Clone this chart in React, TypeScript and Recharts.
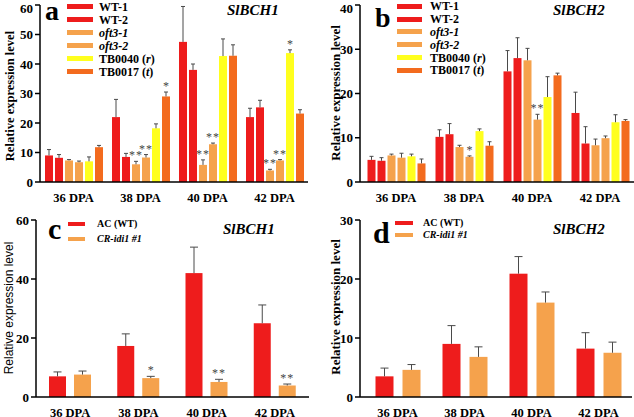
import React from 'react';
import { Bar, BarChart, Legend, XAxis, YAxis } from 'recharts';

const categories = ['36 DPA', '38 DPA', '40 DPA', '42 DPA'];

// a - SlBCH1, six lines
const aWT1 = [9, 22, 47.5, 22];
const aWT1Err = [2, 6, 12, 3];
const aWT2 = [8.2, 8.5, 38, 25.3];
const aWT2Err = [1.1, 1.2, 2, 2.4];
const aOft1 = [7.3, 6, 5.8, 3.9];
const aOft1Err = [0.3, 1, 1.7, 0.4];
const aOft1Sig = ['', '**', '**', '**'];
const aOft2 = [6.7, 8.3, 12.8, 7.3];
const aOft2Err = [0.4, 1, 0.4, 0.3];
const aOft2Sig = ['', '**', '**', '**'];
const aTB40 = [7, 18.2, 42.7, 43.7];
const aTB40Err = [1.5, 1.5, 5.8, 1.1];
const aTB40Sig = ['', '', '', '*'];
const aTB17 = [11.8, 29, 42.8, 23.2];
const aTB17Err = [0.6, 1.5, 3.7, 1.3];
const aTB17Sig = ['', '*', '', ''];

// b - SlBCH2, six lines
const bWT1 = [5, 10.2, 25, 15.6];
const bWT1Err = [0.8, 1.6, 4.7, 4.7];
const bWT2 = [4.8, 10.8, 28, 8.7];
const bWT2Err = [0.7, 2.4, 4.6, 3.8];
const bOft1 = [6, 7.9, 27.5, 8.3];
const bOft1Err = [0.3, 0.4, 2.7, 1.4];
const bOft2 = [5.5, 5.7, 14.1, 9.9];
const bOft2Err = [1, 0.2, 1.2, 0.5];
const bOft2Sig = ['', '*', '**', ''];
const bTB40 = [5.8, 11.5, 19.2, 13.5];
const bTB40Err = [0.5, 0.5, 4.6, 1.7];
const bTB17 = [4.2, 8.2, 24.1, 13.8];
const bTB17Err = [1, 0.9, 0.5, 0.3];

// c - SlBCH1, CR-idi1
const cAC = [7, 17.3, 42, 25];
const cACErr = [1.5, 4.1, 8.8, 6.2];
const cCR = [7.6, 6.4, 5.1, 3.9];
const cCRErr = [1.2, 0.6, 0.9, 0.5];
const cCRSig = ['', '*', '**', '**'];

// d - SlBCH2, CR-idi1
const dAC = [3.5, 9, 20.9, 8.2];
const dACErr = [1.4, 3.1, 2.9, 2.7];
const dCR = [4.6, 6.8, 16, 7.5];
const dCRErr = [0.9, 1.7, 1.8, 1.8];

const RED = '#ee1c1c';
const LORANGE = '#f5a24c';
const YELLOW = '#ffff1e';
const DORANGE = '#f36b1e';

const SERIF = '"Liberation Serif", "Times New Roman", serif';
const SANS = '"Liberation Sans", Arial, sans-serif';

type Series = { key: string; name: string; color: string; values: number[]; err: number[]; sig?: string[] };

function buildRows(series: Series[]) {
  return categories.map((cat, i) => {
    const row: any = { cat };
    series.forEach((s) => {
      row[s.key] = s.values[i];
      row[s.key + 'Err'] = s.err[i];
      row[s.key + 'Sig'] = s.sig ? s.sig[i] : '';
    });
    return row;
  });
}

// bar + upper error bar + significance stars
const errShape = (key: string, cap: number) => (p: any) => {
  const { x, y, width, height, fill, payload } = p;
  const v = payload[key];
  const ppu = v ? height / v : 0;
  const top = y - payload[key + 'Err'] * ppu;
  const cx = x + width / 2;
  const sig = payload[key + 'Sig'];
  return (
    <g>
      <rect x={x} y={y} width={width} height={height} fill={fill} />
      <line x1={cx} x2={cx} y1={y} y2={top} stroke="#4a4a4a" strokeWidth={1} />
      <line x1={cx - cap} x2={cx + cap} y1={top} y2={top} stroke="#4a4a4a" strokeWidth={1} />
      {sig ? (
        <text x={cx} y={top - 2} textAnchor="middle" fontFamily={SERIF} fontSize={12} fill="#444" letterSpacing={sig.length > 1 ? 1 : 0}>
          {sig}
        </text>
      ) : null}
    </g>
  );
};

function fmtName(name: string) {
  if (name.startsWith('oft3') || name.startsWith('CR-')) return <i>{name}</i>;
  const m = name.match(/^(.*)\((\w)\)$/);
  if (m) return <>{m[1]}(<i>{m[2]}</i>)</>;
  return name;
}

const legendContent = (order: string[], font: number, sw: number, sh: number, gap: number, rowH: number) => (props: any) => {
  const items = [...(props.payload || [])].sort((p: any, q: any) => order.indexOf(p.value) - order.indexOf(q.value));
  return (
    <div>
      {items.map((e: any) => (
        <div key={e.value} style={{ display: 'flex', alignItems: 'center', height: rowH }}>
          <span style={{ display: 'inline-block', width: sw, height: sh, background: e.color, marginRight: gap }} />
          <span style={{ fontFamily: SERIF, fontWeight: 'bold', fontSize: font, color: '#000', lineHeight: 1, whiteSpace: 'nowrap' }}>
            {fmtName(e.value)}
          </span>
        </div>
      ))}
    </div>
  );
};

type PanelCfg = {
  left: number; top: number; width: number; height: number;
  series: Series[]; max: number; ticks: number[];
  margin: { top: number; right: number; left: number; bottom: number };
  yWidth: number; xHeight: number; padLeft: number; catGap: number; barGap: number; cap: number;
  letter: string; letterX: number; letterY: number; letterSize: number;
  gene: string; geneX: number; geneY: number;
  titleX: number; titleY: number; titleSans?: boolean; titleSize: number;
  legend: { left: number; top: number; font: number; sw: number; sh: number; gap: number; rowH: number };
};

function Panel({ cfg }: { cfg: PanelCfg }) {
  const data = buildRows(cfg.series);
  const order = cfg.series.map((s) => s.name);
  const tickStyle = { fontFamily: SERIF, fontWeight: 'bold', fontSize: 13, fill: '#000' };
  return (
    <div style={{ position: 'absolute', left: cfg.left, top: cfg.top, width: cfg.width, height: cfg.height }}>
      <BarChart
        width={cfg.width}
        height={cfg.height}
        data={data}
        margin={cfg.margin}
        barCategoryGap={cfg.catGap}
        barGap={cfg.barGap}
      >
        <XAxis
          dataKey="cat"
          height={cfg.xHeight}
          tickLine={false}
          tickMargin={5}
          padding={{ left: cfg.padLeft, right: 0 }}
          axisLine={{ stroke: '#000', strokeWidth: 1.5 }}
          tick={{ ...tickStyle, fontSize: 12.5 }}
          interval={0}
        />
        <YAxis
          width={cfg.yWidth}
          domain={[0, cfg.max]}
          ticks={cfg.ticks}
          tickSize={5}
          tickMargin={2}
          axisLine={{ stroke: '#000', strokeWidth: 1.5 }}
          tickLine={{ stroke: '#000', strokeWidth: 1.5 }}
          tick={tickStyle}
          allowDataOverflow
        />
        <Legend
          layout="vertical"
          align="center"
          verticalAlign="middle"
          wrapperStyle={{ left: cfg.legend.left, top: cfg.legend.top, width: 'auto' }}
          content={legendContent(order, cfg.legend.font, cfg.legend.sw, cfg.legend.sh, cfg.legend.gap, cfg.legend.rowH)}
        />
        {cfg.series.map((s) => (
          <Bar
            key={s.key}
            dataKey={s.key}
            name={s.name}
            fill={s.color}
            isAnimationActive={false}
            shape={errShape(s.key, cfg.cap)}
          />
        ))}
      </BarChart>
      <svg width={cfg.width} height={cfg.height} style={{ position: 'absolute', left: 0, top: 0, pointerEvents: 'none' }}>
        <text x={cfg.letterX} y={cfg.letterY} fontFamily={SERIF} fontWeight="bold" fontSize={cfg.letterSize} fill="#000">
          {cfg.letter}
        </text>
        <text x={cfg.geneX} y={cfg.geneY} fontFamily={SERIF} fontWeight="bold" fontStyle="italic" fontSize={15} fill="#000">
          {cfg.gene}
        </text>
        <text
          x={cfg.titleX}
          y={cfg.titleY}
          transform={`rotate(-90 ${cfg.titleX} ${cfg.titleY})`}
          textAnchor="middle"
          dominantBaseline="central"
          fontFamily={cfg.titleSans ? SANS : SERIF}
          fontWeight={cfg.titleSans ? 'normal' : 'bold'}
          fontSize={cfg.titleSize}
          fill="#000"
        >
          Relative expression level
        </text>
      </svg>
    </div>
  );
}

const sixA: Series[] = [
  { key: 'wt1', name: 'WT-1', color: RED, values: aWT1, err: aWT1Err },
  { key: 'wt2', name: 'WT-2', color: RED, values: aWT2, err: aWT2Err },
  { key: 'oft1', name: 'oft3-1', color: LORANGE, values: aOft1, err: aOft1Err, sig: aOft1Sig },
  { key: 'oft2', name: 'oft3-2', color: LORANGE, values: aOft2, err: aOft2Err, sig: aOft2Sig },
  { key: 'tb40', name: 'TB0040 (r)', color: YELLOW, values: aTB40, err: aTB40Err, sig: aTB40Sig },
  { key: 'tb17', name: 'TB0017 (t)', color: DORANGE, values: aTB17, err: aTB17Err, sig: aTB17Sig },
];

const sixB: Series[] = [
  { key: 'wt1', name: 'WT-1', color: RED, values: bWT1, err: bWT1Err },
  { key: 'wt2', name: 'WT-2', color: RED, values: bWT2, err: bWT2Err },
  { key: 'oft1', name: 'oft3-1', color: LORANGE, values: bOft1, err: bOft1Err },
  { key: 'oft2', name: 'oft3-2', color: LORANGE, values: bOft2, err: bOft2Err, sig: bOft2Sig },
  { key: 'tb40', name: 'TB0040 (r)', color: YELLOW, values: bTB40, err: bTB40Err },
  { key: 'tb17', name: 'TB0017 (t)', color: DORANGE, values: bTB17, err: bTB17Err },
];

const twoC: Series[] = [
  { key: 'ac', name: 'AC (WT)', color: RED, values: cAC, err: cACErr },
  { key: 'cr', name: 'CR-idi1 #1', color: LORANGE, values: cCR, err: cCRErr, sig: cCRSig },
];

const twoD: Series[] = [
  { key: 'ac', name: 'AC (WT)', color: RED, values: dAC, err: dACErr },
  { key: 'cr', name: 'CR-idi1 #1', color: LORANGE, values: dCR, err: dCRErr },
];

const panels: PanelCfg[] = [
  {
    left: 0, top: 0, width: 320, height: 210, series: sixA, max: 60, ticks: [0, 10, 20, 30, 40, 50, 60],
    margin: { top: 5, right: 12, left: 0, bottom: 0 }, yWidth: 40, xHeight: 28, padLeft: 0, catGap: 5, barGap: 2, cap: 2,
    letter: 'a', letterX: 45, letterY: 20, letterSize: 28, gene: 'SlBCH1', geneX: 227, geneY: 15,
    titleX: 10, titleY: 96, titleSize: 12.5,
    legend: { left: 67, top: 0, font: 12, sw: 26, sh: 5, gap: 6, rowH: 13 },
  },
  {
    left: 320, top: 0, width: 314, height: 210, series: sixB, max: 40, ticks: [0, 10, 20, 30, 40],
    margin: { top: 5, right: 0, left: 0, bottom: 0 }, yWidth: 40, xHeight: 28, padLeft: 2, catGap: 5.5, barGap: 2, cap: 2,
    letter: 'b', letterX: 55, letterY: 27, letterSize: 28, gene: 'SlBCH2', geneX: 233, geneY: 15,
    titleX: 15, titleY: 93, titleSize: 13,
    legend: { left: 77, top: 0, font: 12, sw: 25, sh: 5, gap: 8, rowH: 12.8 },
  },
  {
    left: 0, top: 210, width: 320, height: 207, series: twoC, max: 60, ticks: [0, 20, 40, 60],
    margin: { top: 10, right: 11, left: 0, bottom: 0 }, yWidth: 36, xHeight: 20, padLeft: 0, catGap: 13, barGap: 8, cap: 4,
    letter: 'c', letterX: 48, letterY: 29, letterSize: 30, gene: 'SlBCH1', geneX: 223, geneY: 24,
    titleX: 9, titleY: 98, titleSans: true, titleSize: 12,
    legend: { left: 68, top: 6.5, font: 10, sw: 17, sh: 3.5, gap: 12, rowH: 15 },
  },
  {
    left: 320, top: 210, width: 314, height: 207, series: twoD, max: 30, ticks: [0, 10, 20, 30],
    margin: { top: 10, right: 2, left: 0, bottom: 0 }, yWidth: 40, xHeight: 20, padLeft: 4, catGap: 11.5, barGap: 9, cap: 4,
    letter: 'd', letterX: 53, letterY: 33, letterSize: 30, gene: 'SlBCH2', geneX: 233, geneY: 24,
    titleX: 15, titleY: 97, titleSize: 13,
    legend: { left: 75, top: 7, font: 10, sw: 18, sh: 3.5, gap: 10, rowH: 12 },
  },
];

export default function App() {
  return (
    <div style={{ position: 'absolute', left: 0, top: 0, width: 634, height: 417, background: '#fff', overflow: 'hidden' }}>
      {panels.map((p) => (
        <Panel key={p.letter} cfg={p} />
      ))}
    </div>
  );
}
